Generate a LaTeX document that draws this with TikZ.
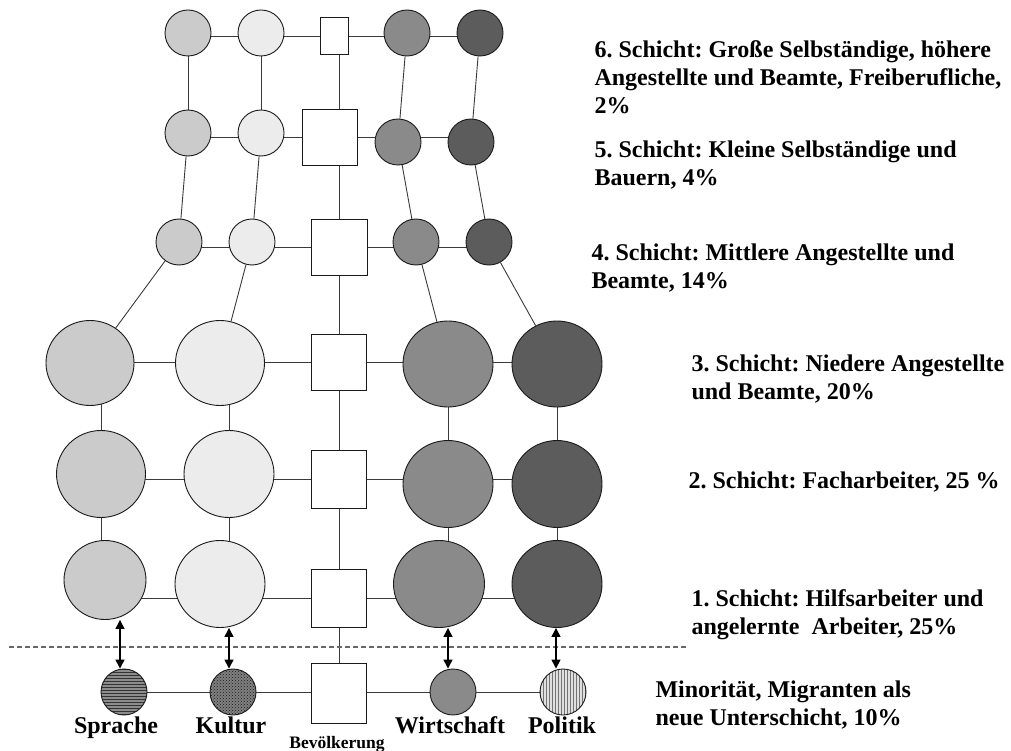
\documentclass[tikz,border=0pt]{standalone}
\usepackage{fontspec}
\setmainfont{Liberation Serif}
\frenchspacing
\usetikzlibrary{shapes.geometric,arrows.meta,patterns}
\pgfdeclarelayer{background}
\pgfsetlayers{background,main}
\definecolor{toneA}{HTML}{CBCBCB}
\definecolor{toneB}{HTML}{ECECEC}
\definecolor{toneC}{HTML}{8A8A8A}
\definecolor{toneD}{HTML}{5C5C5C}
\definecolor{rim}{HTML}{1A1A1A}
\definecolor{wire}{HTML}{3A3A3A}
\begin{document}
\begin{tikzpicture}[x=1pt,y=-1pt,
  ball/.style={circle,draw=rim,line width=0.9pt,inner sep=0pt,minimum size=46pt},
  egg/.style 2 args={ellipse,draw=rim,line width=0.9pt,inner sep=0pt,
    minimum width=#1,minimum height=#2},
  box/.style 2 args={rectangle,draw=rim,fill=white,line width=0.9pt,inner sep=0pt,
    minimum width=#1,minimum height=#2},
  link/.style={draw=wire,line width=0.9pt},
  dbl/.style={draw=black,line width=1.4pt,{Triangle[length=9pt,width=9pt]}-{Triangle[length=9pt,width=9pt]}},
  layer/.style={anchor=base west,align=left,font=\fontsize{24}{28}\selectfont\bfseries},
  tag/.style={anchor=base,font=\fontsize{24}{28}\selectfont\bfseries},
]
\useasboundingbox (0,0) rectangle (1011,751);

% --- sixth stratum
\node[ball,fill=toneA] (r1c1) at (188,33) {};
\node[ball,fill=toneB] (r1c2) at (261,33) {};
\node[box={28pt}{37pt}] (r1sq) at (334,36) {};
\node[ball,fill=toneC] (r1c4) at (407,33) {};
\node[ball,fill=toneD] (r1c5) at (480,33) {};

% --- fifth stratum
\node[ball,fill=toneA] (r2c1) at (188,133) {};
\node[ball,fill=toneB] (r2c2) at (261,133) {};
\node[box={55pt}{56pt}] (r2sq) at (330,137) {};
\node[ball,fill=toneC] (r2c4) at (398,142) {};
\node[ball,fill=toneD] (r2c5) at (471,142) {};

% --- fourth stratum
\node[ball,fill=toneA] (r3c1) at (179,242) {};
\node[ball,fill=toneB] (r3c2) at (252,242) {};
\node[box={56pt}{56pt}] (r3sq) at (339,247) {};
\node[ball,fill=toneC] (r3c4) at (416,242) {};
\node[ball,fill=toneD] (r3c5) at (489,242) {};

% --- third stratum
\node[egg={88pt}{85pt},fill=toneA] (r4c1) at (90,363) {};
\node[egg={89pt}{85pt},fill=toneB] (r4c2) at (220,363) {};
\node[box={55pt}{56pt}] (r4sq) at (339,362) {};
\node[egg={90pt}{86pt},fill=toneC] (r4c4) at (448,364) {};
\node[egg={90pt}{86pt},fill=toneD] (r4c5) at (557,364) {};

% --- second stratum
\node[egg={89pt}{87pt},fill=toneA] (r5c1) at (101,474) {};
\node[egg={90pt}{87pt},fill=toneB] (r5c2) at (229,474) {};
\node[box={55pt}{58pt}] (r5sq) at (339,479) {};
\node[egg={90pt}{87pt},fill=toneC] (r5c4) at (448,484) {};
\node[egg={90pt}{87pt},fill=toneD] (r5c5) at (557,484) {};

% --- first stratum
\node[egg={82pt}{79pt},fill=toneA] (r6c1) at (105,580) {};
\node[egg={90pt}{87pt},fill=toneB] (r6c2) at (220,584) {};
\node[box={55pt}{58pt}] (r6sq) at (339,598) {};
\node[egg={91pt}{87pt},fill=toneC] (r6c4) at (439,584) {};
\node[egg={90pt}{87pt},fill=toneD] (r6c5) at (557,584) {};

% --- minority row
\node[ball,preaction={fill=black!45},pattern=horizontal lines,pattern color=black!80] (spr) at (124,692) {};
\node[ball,preaction={fill=black!50},pattern=crosshatch dots,pattern color=black!90] (kul) at (233,692) {};
\node[box={55pt}{60pt}] (bsq) at (339,693) {};
\node[ball,fill=toneC] (wir) at (453,692) {};
\node[ball,preaction={fill=black!12},pattern=vertical lines,pattern color=black!55] (pol) at (563,692) {};

% --- connectors behind the shapes
\begin{pgfonlayer}{background}
  % rows
  \draw[link] (r1c1 |- r1sq) -- (r1c5 |- r1sq);
  \draw[link] (r2c1 |- r2sq) -- (r2c5 |- r2sq);
  \draw[link] (r3c1 |- r3sq) -- (r3c5 |- r3sq);
  \draw[link] (r4c1 |- r4sq) -- (r4c5 |- r4sq);
  \draw[link] (r5c1 |- r5sq) -- (r5c5 |- r5sq);
  \draw[link] (r6c1 |- r6sq) -- (r6c5 |- r6sq);
  \draw[link] (spr) -- (pol);
  % central column
  \draw[link] (r3sq |- r1sq) -- (r3sq |- bsq);
  % outer columns
  \foreach \c in {1,2,4,5} {
    \draw[link] (r1c\c) -- (r2c\c);
    \draw[link] (r2c\c) -- (r3c\c);
    \draw[link] (r3c\c) -- (r4c\c);
    \draw[link] (r5c\c |- r4c\c) -- (r5c\c);
    \draw[link] (r5c\c) -- (r5c\c |- r6c\c);
  }
\end{pgfonlayer}

% --- boundary of the new underclass
\coordinate (dashL) at (9,647);
\coordinate (dashR) at (687,647);
\draw[draw=black!60,line width=1.1pt,dash pattern=on 5pt off 3pt] (dashL) -- (dashR);

% --- links to the minority row
\draw[dbl] ([xshift=-4pt]spr.north) -- ([xshift=-4pt]spr.north |- r6c1.south);
\draw[dbl] ([xshift=-4pt]kul.north) -- ([xshift=-4pt]kul.north |- r6c2.south);
\draw[dbl] ([xshift=-5pt]wir.north) -- ([xshift=-5pt]wir.north |- r6c4.south);
\draw[dbl] ([xshift=-7pt]pol.north) -- ([xshift=-7pt]pol.north |- r6c5.south);

% --- captions under the minority row
\node[tag] (tS) at (116,733) {Sprache};
\node[tag] (tK) at (231,733) {Kultur};
\node[tag,font=\fontsize{17.5}{20}\selectfont\bfseries] (tB) at (337,748) {Bevölkerung};
\node[tag] (tW) at (450,733) {Wirtschaft};
\node[tag] (tP) at (562,733) {Politik};

% --- strata descriptions (placed by the baseline of their last line)
\node[layer] (d6) at (591,114) {6. Schicht: Große Selbständige, höhere\\Angestellte und Beamte, Freiberufliche,\\2\%};
\node[layer] (d5) at (591,186) {5. Schicht: Kleine Selbständige und\\Bauern, 4\%};
\node[layer] (d4) at (588,288) {4. Schicht: Mittlere Angestellte und\\Beamte, 14\%};
\node[layer] (d3) at (688,399) {3. Schicht: Niedere Angestellte\\und Beamte, 20\%};
\node[layer] (d2) at (685,488) {2. Schicht: Facharbeiter, 25 \%};
\node[layer] (d1) at (688,634) {1. Schicht: Hilfsarbeiter und\\angelernte\ \ Arbeiter, 25\%};
\node[layer] (dm) at (652,725) {Minorität, Migranten als\\neue Unterschicht, 10\%};
\end{tikzpicture}
\end{document}
